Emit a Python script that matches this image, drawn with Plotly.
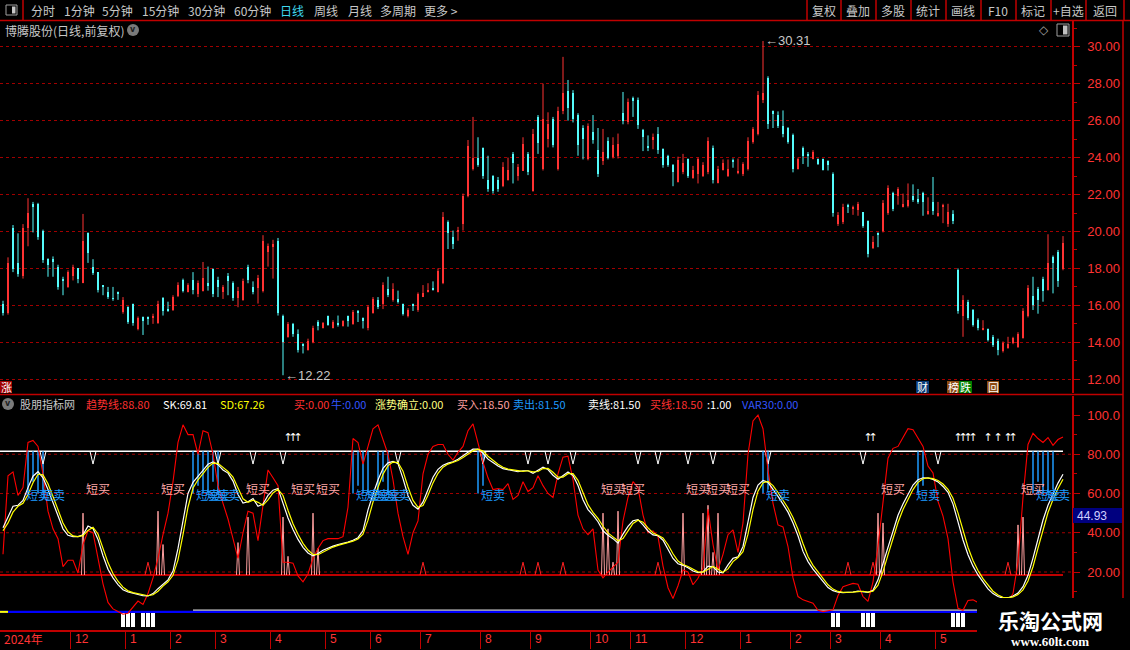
import plotly.graph_objects as go

W, H = 1130, 650
FONT = "Noto Sans CJK SC"
UP, DOWN = "#FF3232", "#54FCFC"
AXIS_RED, LABEL_RED, GRID_RED = "#C00000", "#FF3333", "#A00000"

# ---------- K线 (博腾股份 日线 前复权) ----------
OPENS = [
    16.10, 15.60, 20.20, 18.30, 17.60, 20.20, 21.50, 21.50, 20.00, 18.50,
    18.50, 18.10, 17.45, 17.00, 17.60, 18.00, 17.20, 19.90, 18.10, 17.80,
    17.05, 16.70, 16.40, 16.70, 15.65, 15.90, 16.05, 14.70, 15.35, 15.35,
    15.35, 15.05, 16.40, 15.80, 15.75, 16.50, 17.40, 16.75, 17.40, 16.60,
    16.80, 17.20, 17.95, 17.40, 16.70, 17.60, 17.20, 16.40, 16.30, 18.10,
    17.00, 16.95, 16.80, 18.90, 19.20, 19.50, 15.45, 14.30, 15.00, 14.45,
    13.90, 13.60, 14.00, 15.10, 14.80, 15.40, 14.80, 15.00, 14.90, 15.40,
    15.00, 15.70, 15.30, 14.80, 15.60, 16.30, 16.05, 16.90, 16.30, 16.35,
    16.05, 15.45, 16.05, 15.75, 16.45, 16.75, 16.95, 16.75, 17.20, 20.50,
    19.70, 20.00, 20.40, 21.90, 23.40, 24.00, 24.50, 22.80, 23.00, 22.80,
    22.45, 22.80, 24.20, 23.00, 23.30, 24.20, 22.20, 26.20, 23.40, 25.00,
    26.10, 23.40, 26.50, 27.60, 27.50, 26.30, 25.60, 23.90, 25.40, 24.40,
    23.80, 24.90, 24.05, 24.10, 26.40, 25.90, 27.20, 27.10, 25.50, 24.65,
    25.00, 25.30, 24.45, 24.10, 23.60, 22.70, 23.20, 23.90, 22.90, 23.10,
    23.00, 23.20, 24.50, 22.65, 23.35, 23.00, 23.85, 23.20, 23.10, 23.40,
    24.85, 25.30, 27.10, 28.30, 26.50, 26.30, 25.70, 25.60, 25.20, 23.40,
    24.50, 24.20, 23.95, 23.90, 23.90, 23.80, 23.10, 20.40, 20.50, 21.45,
    21.25, 21.15, 21.05, 20.55, 19.10, 19.90, 20.00, 21.00, 22.10, 21.90,
    21.30, 21.40, 21.90, 21.75, 22.10, 21.00, 21.60, 20.85, 21.35, 20.40,
    20.95, 17.90, 15.40, 16.20, 15.75, 15.20, 14.70, 14.70, 14.30, 14.10,
    13.55, 13.70, 13.95, 13.75, 14.25, 15.40, 16.50, 16.90, 17.45, 16.85,
    18.60, 18.90, 17.95,
]
HIGHS = [
    16.25, 18.60, 20.35, 19.90, 20.40, 21.80, 21.60, 21.55, 20.10, 18.55,
    18.65, 18.20, 17.55, 17.90, 18.20, 18.00, 20.95, 19.95, 18.50, 17.80,
    17.10, 17.00, 17.00, 16.75, 16.45, 15.95, 16.10, 15.40, 15.40, 15.40,
    15.55, 16.25, 16.45, 16.20, 16.55, 17.25, 17.45, 17.20, 17.80, 17.35,
    18.35, 18.10, 18.00, 17.55, 17.10, 17.75, 17.30, 17.00, 17.45, 18.20,
    17.30, 17.65, 19.80, 19.35, 19.55, 19.65, 15.50, 15.10, 15.05, 14.70,
    13.95, 14.20, 14.90, 15.20, 15.10, 15.45, 15.20, 15.45, 15.20, 15.45,
    15.75, 15.75, 15.35, 16.00, 16.45, 16.45, 17.25, 17.55, 17.20, 16.80,
    16.10, 15.85, 16.10, 16.70, 17.10, 17.20, 17.30, 18.00, 21.05, 20.60,
    20.05, 20.25, 22.05, 24.95, 26.20, 25.10, 24.55, 24.10, 23.05, 22.95,
    23.75, 24.00, 24.30, 23.65, 25.10, 24.30, 25.55, 26.30, 28.00, 26.45,
    26.20, 26.75, 29.45, 28.20, 27.65, 26.40, 25.75, 25.85, 26.30, 25.60,
    25.55, 25.10, 25.10, 25.30, 27.55, 27.20, 27.30, 27.25, 25.55, 25.20,
    25.30, 25.65, 24.50, 24.15, 23.65, 24.05, 24.20, 23.95, 23.55, 24.00,
    23.75, 25.10, 24.65, 23.55, 23.90, 23.90, 23.95, 23.95, 23.75, 25.10,
    25.65, 27.60, 30.31, 28.40, 26.55, 26.50, 26.55, 25.65, 25.30, 24.00,
    24.60, 24.30, 24.40, 23.95, 23.95, 23.85, 23.20, 21.05, 21.50, 21.50,
    21.40, 21.60, 21.05, 20.60, 19.75, 19.95, 21.70, 22.50, 22.15, 22.40,
    22.05, 22.60, 22.55, 22.30, 22.15, 21.85, 22.95, 21.60, 21.50, 21.50,
    21.15, 18.00, 16.55, 16.30, 15.80, 15.30, 15.20, 14.75, 14.40, 14.20,
    14.05, 14.30, 14.30, 14.55, 15.85, 17.10, 17.55, 17.00, 17.55, 19.85,
    18.70, 19.00, 19.75,
]
LOWS = [
    15.45, 15.50, 17.80, 17.55, 17.45, 19.20, 19.95, 19.55, 18.30, 17.55,
    17.55, 16.85, 16.55, 16.95, 17.35, 17.20, 17.20, 18.30, 17.65, 16.70,
    16.55, 16.35, 16.25, 16.30, 15.55, 15.00, 14.90, 14.65, 14.40, 14.95,
    15.00, 15.00, 15.45, 15.65, 15.70, 16.45, 16.70, 16.70, 16.60, 16.45,
    16.75, 16.80, 16.45, 16.45, 16.35, 16.55, 16.25, 15.90, 16.25, 17.20,
    16.60, 16.10, 16.70, 18.10, 17.45, 15.45, 12.22, 14.25, 14.30, 13.45,
    13.40, 13.55, 13.95, 14.65, 14.75, 14.90, 14.75, 14.85, 14.85, 14.85,
    14.95, 15.10, 14.75, 14.65, 15.55, 15.80, 15.80, 16.45, 16.20, 16.10,
    15.45, 15.35, 15.70, 15.65, 16.45, 16.70, 16.80, 16.70, 17.15, 19.05,
    19.05, 19.50, 20.05, 21.85, 23.30, 23.50, 22.85, 22.15, 22.05, 22.15,
    22.40, 22.75, 22.60, 22.75, 23.30, 23.05, 22.15, 24.20, 23.30, 24.55,
    24.55, 23.30, 26.35, 26.00, 25.90, 24.10, 23.90, 23.85, 24.75, 22.95,
    23.60, 23.90, 23.95, 23.95, 25.80, 25.80, 26.20, 25.55, 24.35, 24.35,
    24.45, 24.20, 23.45, 23.50, 22.45, 22.65, 23.10, 22.90, 22.85, 22.60,
    22.95, 23.10, 22.60, 22.60, 23.30, 22.95, 23.45, 23.10, 23.00, 23.30,
    24.75, 25.20, 26.95, 25.55, 25.60, 25.60, 25.10, 24.75, 23.20, 23.35,
    23.65, 23.50, 23.90, 23.60, 23.30, 23.30, 20.80, 20.30, 20.40, 21.00,
    20.90, 20.85, 20.20, 18.60, 19.05, 19.15, 19.95, 20.90, 21.10, 21.45,
    21.30, 21.30, 21.60, 21.50, 20.85, 20.90, 20.90, 20.80, 20.45, 20.25,
    20.40, 15.55, 14.30, 15.20, 14.85, 14.65, 14.65, 14.05, 13.75, 13.30,
    13.45, 13.65, 13.90, 13.70, 14.20, 15.35, 15.75, 15.55, 16.20, 16.80,
    16.65, 17.00, 17.90,
]
CLOSES = [
    15.60, 18.30, 17.95, 17.70, 20.20, 21.00, 21.30, 19.70, 18.45, 18.20,
    18.40, 17.00, 17.30, 17.80, 18.10, 17.45, 19.50, 18.85, 17.75, 16.85,
    17.00, 16.45, 16.35, 16.65, 16.30, 15.10, 15.05, 15.30, 15.15, 15.30,
    15.45, 16.10, 15.70, 15.75, 16.45, 17.10, 16.80, 17.10, 16.85, 17.20,
    17.50, 17.10, 16.60, 17.00, 17.00, 17.30, 16.40, 16.80, 17.30, 17.35,
    16.70, 17.50, 19.50, 19.20, 19.30, 15.60, 14.00, 15.00, 14.45, 13.60,
    13.85, 14.10, 14.80, 14.90, 15.05, 14.95, 15.10, 14.95, 15.15, 15.15,
    15.65, 15.60, 15.20, 15.90, 16.35, 15.90, 17.10, 16.55, 16.90, 16.20,
    15.55, 15.75, 16.00, 16.60, 16.65, 16.80, 16.85, 17.85, 20.80, 19.90,
    19.30, 20.10, 21.90, 24.60, 24.00, 23.60, 23.00, 22.30, 22.20, 22.30,
    23.50, 23.35, 23.70, 23.50, 24.75, 23.20, 25.30, 24.80, 26.10, 25.80,
    24.70, 26.50, 27.50, 26.70, 26.10, 24.70, 25.00, 25.70, 24.95, 23.10,
    24.30, 24.00, 24.70, 24.75, 26.00, 27.00, 27.10, 25.75, 25.10, 24.50,
    25.10, 24.40, 23.60, 23.60, 23.20, 23.85, 23.70, 23.00, 23.35, 23.90,
    23.60, 24.90, 22.80, 23.40, 23.70, 23.40, 23.80, 23.30, 23.65, 24.90,
    25.55, 27.40, 27.50, 25.80, 26.40, 25.70, 25.30, 24.85, 23.40, 23.90,
    24.10, 24.10, 24.30, 23.65, 23.35, 23.60, 21.00, 20.90, 21.35, 21.35,
    21.30, 21.50, 20.30, 18.80, 19.45, 19.85, 21.55, 22.35, 21.20, 22.30,
    21.50, 21.70, 21.70, 21.60, 21.60, 21.10, 21.10, 21.00, 21.40, 21.05,
    20.55, 15.70, 16.30, 15.30, 14.95, 14.75, 14.80, 14.15, 13.85, 13.60,
    13.95, 13.90, 14.25, 14.45, 15.70, 16.95, 16.00, 16.30, 16.80, 18.30,
    18.30, 17.30, 19.40,
]

# ---------- 股朋指标 ----------
TREND = [
    29, 69, 71, 59, 63, 86, 87, 84, 70, 51,
    42, 37, 22.7, 26, 26, 19.5, 34, 41, 40, 27,
    14, 4.5, 1.2, -0.1, -1.5, -1, 2.4, 5.2, 3.5, 9,
    17, 27, 39, 50, 66, 86, 95, 90, 90, 80,
    92, 91, 80, 64, 55, 47, 37, 27, 40, 51,
    50, 36, 54, 72, 68, 64, 25, 25, 24.5, 18,
    15, 19, 27, 32, 36, 37, 37, 37, 38, 53,
    88, 86, 75, 84, 93, 95, 88, 80, 67, 50,
    38, 29, 40, 46, 70, 80, 84, 85, 85, 80,
    77, 81, 84, 92, 95.5, 85, 76, 68, 62, 62.5,
    62, 65, 57, 59, 66, 61, 63, 69, 64, 60,
    58, 70, 78.5, 79, 67, 49, 42, 39, 42, 21,
    17, 20, 22.5, 25, 46, 58, 66, 63, 49, 40,
    41, 38, 23, 12, 6.5, 13, 21, 20, 13.5, 16.8,
    22, 52, 34, 21, 29, 39, 41.5, 30, 45, 80,
    97, 100, 93, 72, 55, 44, 43, 33, 17, 7.5,
    5.8, 4.9, 4.1, 0.5, -0.2, 0.3, 0.7, 8, 12.5, 13.4,
    14.2, 13.8, 7.5, 5, 15, 33, 57, 78, 83, 84,
    88.5, 93, 92.5, 88, 84, 74, 70.5, 56, 48.5, 37,
    15, 1.5, 0.5, 5.5, 5.8, 4.5, 3.5, 3, 2.5, 2,
    3, 5, 9, 25, 58, 85, 90.7, 88, 86, 88.5,
    84.5, 87.5, 88.8,
]
SK = [
    42.5, 48, 53.5, 54, 56.5, 63, 68.8, 71.1, 68, 62,
    55, 48, 42, 38.7, 38, 38, 39, 43.4, 42.2, 36.6,
    28.3, 21.4, 17, 13.6, 11, 9.8, 9.1, 8.6, 7.9, 7.8,
    9, 11.5, 14, 16, 20.5, 32, 46, 60, 65.7, 68.5,
    71.8, 74.9, 76.1, 74.7, 72, 70.4, 66.3, 59.5, 55.1, 55.8,
    57.4, 53.5, 54.6, 59, 61.7, 62.6, 55.5, 47.5, 41.7, 36.6,
    32.6, 29.7, 28.2, 29.4, 31.1, 32.3, 33.2, 34, 34.6, 35.2,
    36.2, 37.5, 41.1, 51.7, 59.6, 66.9, 72.8, 75.6, 76.4, 75.2,
    67.6, 58.9, 54, 52, 55.7, 62.5, 68.3, 72.3, 74.4, 75.5,
    76.2, 77.4, 79.3, 81, 82.6, 82.6, 80.5, 77.5, 75.8, 74,
    72.7, 72.2, 71.8, 71.1, 71.6, 71.6, 70.3, 72, 73.4, 72.2,
    69.3, 67.3, 69.3, 71, 69.2, 64.1, 56.8, 51.8, 49, 45.6,
    41, 38.7, 37, 34.7, 39.3, 43.2, 46.1, 46.7, 44, 40.9,
    38.9, 38.5, 36.2, 31.6, 26.9, 24.2, 23.4, 22.2, 20.5, 19.7,
    20.1, 23, 22.7, 20, 19.6, 23.6, 27, 27.7, 33, 45.5,
    58, 64.3, 66.6, 65.7, 62.4, 58.5, 54.6, 50.5, 45, 38.5,
    30.5, 25.3, 21.5, 18.2, 14.8, 12.1, 10.5, 9.7, 9.5, 9.6,
    9.8, 10.3, 10, 9.6, 10.7, 16, 24.4, 33, 41.4, 48.9,
    54.7, 59.8, 64.3, 67, 68, 67.9, 67.2, 65.9, 63.6, 60.6,
    54.6, 45.5, 36.3, 28.8, 23, 18.5, 14.7, 11.4, 9, 7.5,
    6.7, 6.9, 7.8, 9.3, 12.5, 18.3, 27.1, 37.3, 46.5, 54,
    59.8, 65.3, 69.81,
]
SD = [
    41, 45, 50.5, 53.5, 55, 59.5, 65.5, 69.8, 69.5, 65,
    58.5, 51.5, 45, 40.5, 38.4, 38, 38.5, 41.2, 42.8, 39.4,
    32.5, 24.8, 19.2, 15.3, 12.3, 10.4, 9.5, 8.9, 8.3, 7.9,
    8.4, 10.2, 12.8, 15, 18.3, 26.2, 39, 53, 62.8, 67,
    70.1, 73.3, 75.5, 75.4, 73.3, 71.2, 68.4, 62.9, 57.3, 55.5,
    56.6, 55.5, 54, 56.8, 60.3, 62.1, 59, 51.5, 44.6, 39.2,
    34.6, 31.2, 29, 28.8, 30.2, 31.7, 32.7, 33.6, 34.3, 34.9,
    35.7, 36.8, 39.3, 46.4, 55.6, 63.2, 69.8, 74.2, 76, 75.8,
    71.4, 63.3, 56.5, 53, 53.9, 59.1, 65.4, 70.3, 73.4, 75,
    75.8, 76.8, 78.4, 80.1, 81.8, 82.6, 81.6, 79, 76.7, 74.9,
    73.4, 72.4, 72, 71.5, 71.3, 71.6, 71, 71.2, 72.7, 72.8,
    70.8, 68.3, 68.3, 70.1, 70.1, 66.7, 60.5, 54.3, 50.4, 47.3,
    43.3, 39.9, 37.9, 35.9, 37, 41.2, 44.7, 46.4, 45.4, 42.5,
    39.9, 38.7, 37.4, 33.9, 29.3, 25.6, 23.8, 22.8, 21.4, 20.1,
    19.9, 21.5, 22.8, 21.4, 19.8, 21.6, 25.3, 27.4, 30.4, 39.3,
    51.8, 61.2, 65.5, 66.2, 64, 60.5, 56.6, 52.6, 47.8, 41.8,
    34.5, 27.9, 23.4, 19.9, 16.5, 13.5, 11.3, 10.1, 9.6, 9.6,
    9.7, 10, 10.2, 9.8, 10.2, 13.3, 20.2, 28.7, 37.2, 45.2,
    51.8, 57.3, 62, 65.7, 67.5, 68, 67.6, 66.6, 64.8, 62.1,
    57.6, 50.1, 40.9, 32.6, 25.9, 20.8, 16.6, 13.1, 10.2, 8.3,
    7.1, 6.8, 7.3, 8.5, 10.9, 15.4, 22.7, 32.2, 41.9, 50.3,
    56.9, 62.6, 67.26,
]
SELL_LINE, BUY_LINE = 81.5, 18.5

# signals (bar index, level)
PINK_SPIKE_AT = [16, 31, 32, 47, 49, 56, 57, 62, 63, 120, 121, 122, 123,
                 136, 140, 141, 142, 143, 175, 176, 203, 204]
PINK_SPIKE_TOP = [50, 51, 34, 35, 48, 48, 28, 50, 32, 50, 42, 25, 51,
                  50, 50, 54, 30, 50, 50, 45, 44, 48]
RED_TICK_AT = [29, 84, 104, 107, 112, 131, 169, 174, 201]
RED_TICK_TOP = [25, 25, 25, 25, 25, 25, 25, 25, 25]
WHITE_V_AT = [8, 18, 43, 50, 56, 79, 96, 105, 109, 114, 127, 131, 137, 142,
              153, 172, 187]
WHITE_V_TIP = 75
CYAN_DROP_AT = [5, 6, 7, 8, 38, 39, 40, 41, 42, 43, 70, 71, 72, 73, 75, 76, 77,
                95, 96, 152, 153, 183, 184, 206, 207, 208, 209, 210]
CYAN_DROP_LOW = [60, 66, 60, 62, 60, 64, 60, 60, 66, 60, 60, 64, 60, 60, 60, 66,
                 60, 60, 64, 60, 62, 60, 64, 60, 66, 60, 60, 62]
SHORT_SELL_AT = [7, 10, 41, 43, 45, 73, 75, 77, 79, 98, 155, 185, 209, 211]
SHORT_BUY_AT = [19, 34, 51, 60, 65, 122, 126, 139, 143, 147, 178, 206]
SHORT_SELL_LEVEL, SHORT_BUY_LEVEL = 58, 61.5
UP_ARROW_AT = [57, 58, 59, 173, 174, 191, 192, 193, 194, 197, 199, 201, 202]
UP_ARROW_LEVEL = 88
BOTTOM_BOX_AT = [24, 25, 26, 28, 29, 30, 166, 167, 172, 173, 174, 190, 191, 192]
BLUE_LEVEL, WHITE_BASE_LEVEL, WHITE_BASE_FROM = -0.3, 0.6, 38
GRID_LEVELS = [20, 40, 60, 80]

# x axis: first bar index of each month
MONTH_START = [14, 25, 34, 43, 54, 65, 74, 84, 96, 106, 118, 126, 137, 148,
               158, 166, 176, 187]
MONTH_LABELS = ["12", "1", "2", "3", "4", "5", "6", "7", "8", "9", "10", "11",
                "12", "1", "2", "3", "4", "5"]

idx = list(range(len(CLOSES)))
XR = [-0.6, 213.8]


def px(x):
    return x / W


def py(y):
    return 1 - y / H


def spikes(at, tops, base, half):
    xs, ys = [], []
    for i, t in zip(at, tops):
        xs += [i - half, i, i + half, None]
        ys += [base, t, base, None]
    return xs, ys


fig = go.Figure()

# candles: thin wick line + narrow body bar, red = up, cyan = down
for up, color in [(True, UP), (False, DOWN)]:
    sel = [i for i in idx if (CLOSES[i] >= OPENS[i]) == up]
    wx, wy = [], []
    for i in sel:
        wx += [i, i, None]
        wy += [LOWS[i], HIGHS[i], None]
    fig.add_trace(go.Scatter(x=wx, y=wy, mode="lines", hoverinfo="skip",
                             line=dict(color=color, width=1),
                             xaxis="x", yaxis="y"))
    fig.add_trace(go.Bar(
        x=sel, base=[min(OPENS[i], CLOSES[i]) for i in sel],
        y=[max(abs(CLOSES[i] - OPENS[i]), 0.04) for i in sel],
        width=0.45, marker=dict(color=color, line=dict(width=0)),
        hoverinfo="skip", xaxis="x", yaxis="y"))

lo_i = LOWS.index(min(LOWS))
hi_i = HIGHS.index(max(HIGHS))


def ind(tr):
    tr.update(xaxis="x2", yaxis="y2", hoverinfo="skip")
    fig.add_trace(tr)


# bottom base lines and boxes
ind(go.Scatter(x=[idx[0] - 0.6, idx[-1]], y=[BLUE_LEVEL] * 2, mode="lines",
               line=dict(color="#0000FF", width=2.2)))
ind(go.Scatter(x=[idx[0] - 0.6, idx[1]], y=[BLUE_LEVEL] * 2, mode="lines",
               line=dict(color="#FFFF00", width=2)))
ind(go.Scatter(x=[WHITE_BASE_FROM, idx[-1]], y=[WHITE_BASE_LEVEL] * 2,
               mode="lines", line=dict(color="#FFFFFF", width=1)))
ind(go.Bar(x=BOTTOM_BOX_AT, y=[-7] * len(BOTTOM_BOX_AT), base=-0.8, width=0.72,
           marker=dict(color="#FFFFFF", line=dict(width=0))))

# 卖线 / 买线
ind(go.Scatter(x=[idx[0] - 0.6, idx[-1]], y=[SELL_LINE] * 2, mode="lines",
               line=dict(color="#FFFFFF", width=1.5)))
ind(go.Scatter(x=[idx[0] - 0.6, idx[-1]], y=[BUY_LINE] * 2, mode="lines",
               line=dict(color="#FF0000", width=1.5)))

# cyan drops from sell line
cx, cy = [], []
for i, lo in zip(CYAN_DROP_AT, CYAN_DROP_LOW):
    cx += [i, i, None]
    cy += [SELL_LINE, lo, None]
ind(go.Scatter(x=cx, y=cy, mode="lines", line=dict(color="#1E9BFF", width=1.5)))

vx, vy = spikes(WHITE_V_AT, [WHITE_V_TIP] * len(WHITE_V_AT), SELL_LINE, 0.6)
ind(go.Scatter(x=vx, y=vy, mode="lines", line=dict(color="#FFFFFF", width=1)))

sx, sy = spikes(PINK_SPIKE_AT, PINK_SPIKE_TOP, BUY_LINE, 0.3)
ind(go.Scatter(x=sx, y=sy, mode="lines", line=dict(color="#FFA0A0", width=1)))

rx, ry = spikes(RED_TICK_AT, RED_TICK_TOP, BUY_LINE, 0.6)
ind(go.Scatter(x=rx, y=ry, mode="lines", line=dict(color="#FF2020", width=1)))

ind(go.Scatter(x=idx, y=TREND, mode="lines", line=dict(color="#FF0000", width=1.1)))
ind(go.Scatter(x=idx, y=SK, mode="lines", line=dict(color="#FFFFFF", width=1.2)))
ind(go.Scatter(x=idx, y=SD, mode="lines", line=dict(color="#FFFF00", width=1.2)))

ind(go.Scatter(x=SHORT_BUY_AT, y=[SHORT_BUY_LEVEL] * len(SHORT_BUY_AT),
               mode="text", text=["短买"] * len(SHORT_BUY_AT),
               textfont=dict(color="#FFA8A8", size=12, family=FONT)))
ind(go.Scatter(x=SHORT_SELL_AT, y=[SHORT_SELL_LEVEL] * len(SHORT_SELL_AT),
               mode="text", text=["短卖"] * len(SHORT_SELL_AT),
               textfont=dict(color="#1E9BFF", size=12, family=FONT)))
ind(go.Scatter(x=UP_ARROW_AT, y=[UP_ARROW_LEVEL] * len(UP_ARROW_AT),
               mode="text", text=["↑"] * len(UP_ARROW_AT),
               textfont=dict(color="#FFFFFF", size=11, family="DejaVu Sans")))

XDOM = [0, px(1072)]
tickfont = dict(color=LABEL_RED, size=13, family="Liberation Sans")

fig.update_layout(
    width=W, height=H, margin=dict(l=0, r=0, t=0, b=0),
    paper_bgcolor="#000000", plot_bgcolor="#000000",
    showlegend=False, barmode="overlay", bargap=0,
    xaxis=dict(domain=XDOM, range=XR, anchor="y", showticklabels=False,
               showgrid=False, zeroline=False, showline=False, fixedrange=True),
    yaxis=dict(domain=[py(393), py(21)], range=[11.259, 31.391], side="right",
               anchor="x", tick0=0, dtick=2, tickformat=".2f",
               ticks="outside", ticklen=6, tickcolor=AXIS_RED,
               ticklabelstandoff=5, tickfont=tickfont,
               minor=dict(dtick=1, ticks="outside", ticklen=3,
                          tickcolor=AXIS_RED, showgrid=False),
               showgrid=True, gridcolor=GRID_RED, griddash="dot", gridwidth=1,
               zeroline=False, showline=True, linecolor=AXIS_RED, linewidth=1.5),
    xaxis2=dict(domain=XDOM, range=XR, anchor="y2", showticklabels=False,
                tickmode="array", tickvals=[m - 0.5 for m in MONTH_START],
                ticks="outside", ticklen=17, tickcolor=AXIS_RED, tickwidth=1,
                showgrid=False, zeroline=False, showline=True,
                linecolor=AXIS_RED, linewidth=1.5),
    yaxis2=dict(domain=[py(630), py(396)], range=[-9.55, 109.68], side="right",
                anchor="x2", tickmode="array", tickvals=[20, 40, 60, 80, 100],
                ticktext=["20.00", "40.00", "60.00", "80.00", "100.0"],
                ticks="outside", ticklen=6, tickcolor=AXIS_RED,
                ticklabelstandoff=5, tickfont=tickfont,
                minor=dict(tickvals=[10, 30, 50, 70, 90], ticks="outside",
                           ticklen=3, tickcolor=AXIS_RED, showgrid=False),
                showgrid=False, zeroline=False, showline=True,
                linecolor=AXIS_RED, linewidth=1.5),
)

shapes = []
ann = []


def line(x0, y0, x1, y1, color=AXIS_RED, width=1.5):
    shapes.append(dict(type="line", xref="paper", yref="paper", x0=px(x0),
                       x1=px(x1), y0=py(y0), y1=py(y1),
                       line=dict(color=color, width=width)))


def rect(x0, y0, x1, y1, fill, outline=None, layer="above"):
    shapes.append(dict(type="rect", xref="paper", yref="paper", x0=px(x0),
                       x1=px(x1), y0=py(y0), y1=py(y1), fillcolor=fill,
                       layer=layer,
                       line=dict(color=outline or fill,
                                 width=1 if outline else 0)))


def text(x, y, s, color="#C8C8C8", size=12, anchor="left", family=FONT, bold=False):
    ann.append(dict(x=px(x), y=py(y), xref="paper", yref="paper", text=s,
                    showarrow=False, xanchor=anchor, yanchor="middle",
                    font=dict(color=color, size=size, family=family,
                              weight="bold" if bold else "normal")))


# indicator grid
for g in GRID_LEVELS:
    shapes.append(dict(type="line", xref="paper", yref="y2", x0=0, x1=px(1072),
                       y0=g, y1=g, layer="below",
                       line=dict(color=GRID_RED, width=1, dash="dot")))

# frame lines
line(0, 20.5, W, 20.5)
line(23, 0, 23, 20.5)
for sx_ in [807, 841, 876, 911, 946, 981, 1016, 1051, 1086, 1124]:
    line(sx_, 0, sx_, 20.5)
line(0, 394.5, 1123, 394.5)
line(1123, 20.5, 1123, H)

# toolbar
rect(6, 5, 17, 15, "rgba(0,0,0,0)", outline="#A0A0A0")
rect(12, 6.5, 15.5, 13.5, "#C8C8C8")
for label, x0, col in [("分时", 29, None), ("1分钟", 62, None), ("5分钟", 100, None),
                       ("15分钟", 140, None), ("30分钟", 186, None),
                       ("60分钟", 232, None), ("日线", 278, "#3FD8F0"),
                       ("周线", 312, None), ("月线", 346, None),
                       ("多周期", 378, None), ("更多 >", 422, None)]:
    text(x0, 10.5, label, color=col or "#C8C8C8", size=12)
for label, cx_ in [("复权", 824), ("叠加", 858), ("多股", 893), ("统计", 928),
                   ("画线", 963), ("F10", 998), ("标记", 1033), ("+自选", 1068),
                   ("返回", 1105)]:
    text(cx_, 10.5, label, size=12, anchor="center")

# price panel header
text(3, 30, "博腾股份(日线,前复权)", size=12)
shapes.append(dict(type="circle", xref="paper", yref="paper", x0=px(127),
                   x1=px(139), y0=py(36), y1=py(24), fillcolor="#7A7A7A",
                   line=dict(width=0)))
text(133, 29.5, "v", color="#202020", size=8, anchor="center",
     family="DejaVu Sans", bold=True)
text(1044, 30, "◇", color="#A0A0A0", size=12, anchor="center", family="DejaVu Sans")
rect(1057, 24, 1069, 36, "rgba(0,0,0,0)", outline="#A0A0A0")
rect(1063, 25.5, 1067.5, 34.5, "#C0C0C0")

# high / low labels
ann.append(dict(x=lo_i, y=LOWS[lo_i], xref="x", yref="y", text=f"←{LOWS[lo_i]:.2f}",
                showarrow=False, xanchor="left", yanchor="middle",
                font=dict(color="#C8C8C8", size=13, family="Liberation Sans")))
ann.append(dict(x=hi_i, y=HIGHS[hi_i], xref="x", yref="y", text=f"←{HIGHS[hi_i]:.2f}",
                showarrow=False, xanchor="left", yanchor="middle",
                font=dict(color="#C8C8C8", size=13, family="Liberation Sans")))

# small tags at bottom of price panel
rect(0, 381, 12, 393, "#A00000")
text(6, 387, "涨", color="#FFFFFF", size=11, anchor="center")
rect(916, 381, 929, 393, "#0A3A78")
text(922.5, 387, "财", color="#FFFFFF", size=11, anchor="center")
rect(947, 381, 959, 393, "#8B4A10")
text(953, 387, "榜", color="#FFFFFF", size=11, anchor="center")
rect(959, 381, 972, 393, "#008000")
text(965.5, 387, "跌", color="#FFFFFF", size=11, anchor="center")
rect(987, 381, 999, 393, "#8B4A10")
text(993, 387, "回", color="#FFFFFF", size=11, anchor="center")

# indicator header
shapes.append(dict(type="circle", xref="paper", yref="paper", x0=px(2),
                   x1=px(14), y0=py(410), y1=py(398), fillcolor="#7A7A7A",
                   line=dict(width=0)))
text(8, 403.5, "v", color="#202020", size=8, anchor="center",
     family="DejaVu Sans", bold=True)
header = [
    ("股朋指标网", 18, "#C8C8C8"),
    (f"趋势线:{TREND[-1]:.2f}", 84, "#FF3030"),
    (f"SK:{SK[-1]:.2f}", 161, "#FFFFFF"),
    (f"SD:{SD[-1]:.2f}", 218, "#FFFF00"),
    ("买:0.00", 292, "#FF3030"),
    ("牛:0.00", 329, "#3355FF"),
    ("涨势确立:0.00", 373, "#FFFF80"),
    (f"买入:{BUY_LINE:.2f}", 455, "#FFA0A0"),
    (f"卖出:{SELL_LINE:.2f}", 511, "#1E9BFF"),
    (f"卖线:{SELL_LINE:.2f}", 586, "#FFFFFF"),
    (f"买线:{BUY_LINE:.2f}", 648, "#FF3030"),
    (":1.00", 705, "#FFFFFF"),
    ("VAR30:0.00", 740, "#3355FF"),
]
for s, x0, col in header:
    text(x0, 404, s, color=col, size=11)

# crosshair value tag
rect(1073, 508, 1122, 523, "#00007F")
text(1075, 515.5, "44.93", color="#D0D0FF", size=12, family="Liberation Sans")

# month labels
text(2, 638.5, "2024年", color=LABEL_RED, size=12)
for m, lab in zip(MONTH_START, MONTH_LABELS):
    ann.append(dict(x=m - 0.5, y=py(638.5), xref="x2", yref="paper", text=lab,
                    showarrow=False, xanchor="left", yanchor="middle", xshift=2,
                    font=dict(color=LABEL_RED, size=12, family="Liberation Sans")))

# watermark
rect(977, 598, W, H, "#000000")
text(1050, 620, "乐淘公式网", color="#FFFFFF", size=21, anchor="center", bold=True)
text(1050, 641, "www.60lt.com", color="#FFFFFF", size=13, anchor="center",
     family="Liberation Serif", bold=True)

fig.update_layout(shapes=shapes, annotations=ann)
fig.write_html("out.html", config={"displayModeBar": False},
               post_script="document.body.style.margin='0';")
